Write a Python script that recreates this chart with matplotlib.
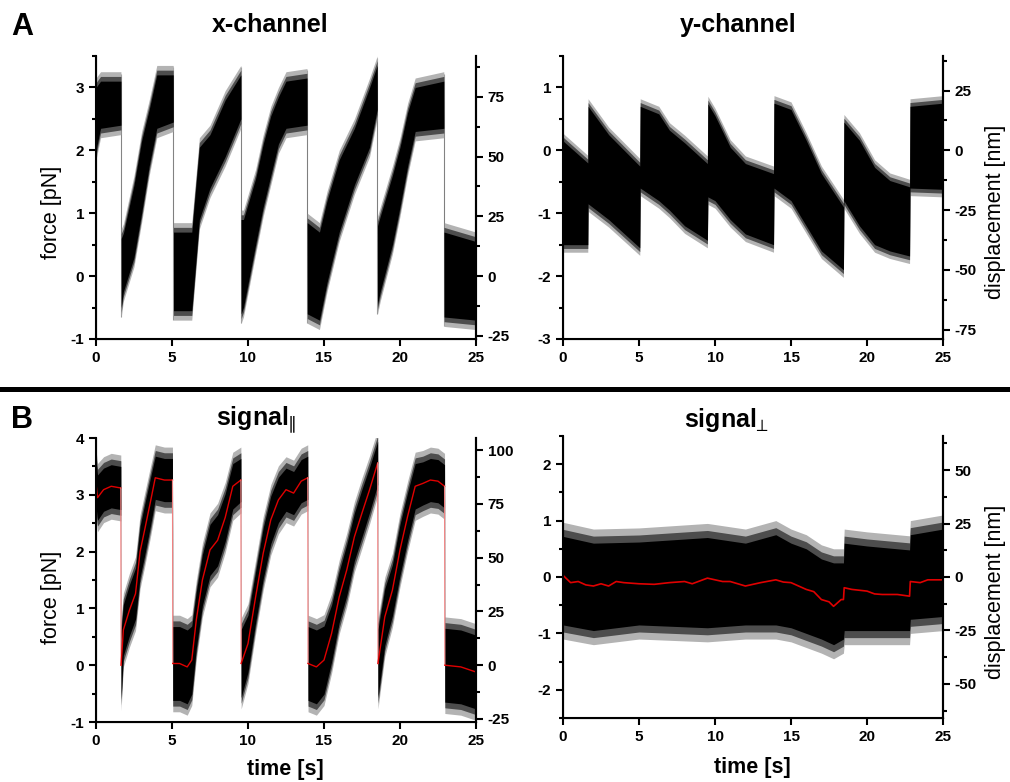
import numpy as np
import matplotlib
matplotlib.use("Agg")
import matplotlib.pyplot as plt
from matplotlib.ticker import MultipleLocator
from matplotlib.lines import Line2D

plt.rcParams['font.family'] = ['Liberation Sans', 'DejaVu Sans']
plt.rcParams['axes.unicode_minus'] = False

# ---- data ---------------------------------------------------------------
# x-channel: core of the noise band [pN]
xch_t = [0, 0.3, 1.64, 1.66, 1.8, 2.5, 3.0, 3.5, 4.0, 5.08, 5.1, 6.3, 6.8, 7.5, 8.5, 9.53, 9.55, 9.7, 10.5, 11.0,
         11.5, 12.0, 12.5, 13.88, 13.9, 14.7, 15.2, 16.0, 17.0, 18.0, 18.5, 18.52, 18.7, 19.5, 20.0, 20.5, 21.0,
         22.88, 22.9, 25.0]
xch_hi = [3.0, 3.1, 3.1, 0.6, 0.68, 1.45, 2.15, 2.65, 3.2, 3.2, 0.7, 0.7, 2.05, 2.25, 2.8, 3.2, 0.9, 0.9, 1.55, 2.1,
          2.55, 2.85, 3.1, 3.15, 0.85, 0.7, 1.2, 1.85, 2.35, 3.0, 3.35, 0.8, 0.95, 1.6, 2.05, 2.6, 3.0,
          3.1, 0.7, 0.55]
xch_lo = [2.0, 2.35, 2.4, -0.5, -0.25, 0.3, 1.0, 1.75, 2.35, 2.45, -0.55, -0.55, 0.9, 1.4, 1.9, 2.5, -0.6, -0.5, 0.5, 1.1,
          1.6, 2.1, 2.35, 2.4, -0.6, -0.7, -0.1, 0.7, 1.45, 2.05, 2.65, -0.45, -0.25, 0.5, 1.1, 1.75, 2.3,
          2.35, -0.65, -0.7]

# y-channel [pN]
ych_t = [0, 1.63, 1.65, 3.0, 5.05, 5.08, 6.3, 7.0, 8.0, 9.5, 9.53, 10.0, 11.0, 12.0, 13.85, 13.88, 15.0, 16.0, 17.0,
         18.45, 18.48, 19.5, 20.5, 21.5, 22.8, 22.83, 25.0]
ych_hi = [0.15, -0.2, 0.7, 0.25, -0.25, 0.7, 0.58, 0.32, 0.12, -0.21, 0.74, 0.55, 0.05, -0.21, -0.37, 0.75, 0.65, 0.16,
          -0.37, -0.9, 0.45, 0.16, -0.27, -0.48, -0.58, 0.7, 0.75]
ych_lo = [-1.5, -1.5, -0.85, -1.1, -1.55, -0.6, -0.8, -0.95, -1.2, -1.43, -0.74, -0.8, -1.1, -1.33, -1.5, -0.6, -0.8,
          -1.2, -1.6, -1.9, -0.8, -1.2, -1.5, -1.6, -1.68, -0.6, -0.62]

# signal parallel: running average (red) and half width of the noise band [pN]
par_t = [0, 0.1, 0.5, 1.0, 1.63, 1.65, 1.8, 2.2, 2.6, 2.9, 3.2, 3.6, 3.9, 4.5, 5.03, 5.05, 5.5, 6.0, 6.3, 6.6,
         7.0, 7.5, 8.0, 8.5, 9.0, 9.53, 9.55, 10.0, 10.5, 11.0, 11.5, 12.0, 12.5, 13.0, 13.5, 13.93, 13.95, 14.5,
         15.0, 15.5, 16.0, 16.5, 17.0, 17.5, 18.0, 18.53, 18.55, 19.0, 19.5, 20.0, 20.5, 21.0, 21.5, 22.0, 22.5,
         22.93, 22.95, 24.0, 25.0]
par_avg = [3.2, 2.95, 3.09, 3.15, 3.12, 0.0, 0.62, 0.97, 1.26, 2.0, 2.38, 2.9, 3.3, 3.26, 3.26, 0.03, 0.03, -0.03,
           0.09, 0.8, 1.5, 2.03, 2.2, 2.6, 3.15, 3.26, 0.03, 0.38, 1.2, 1.97, 2.56, 2.91, 3.09, 3.03, 3.24, 3.3,
           0.03, -0.03, 0.09, 0.56, 1.2, 1.68, 2.26, 2.68, 3.09, 3.56, 0.03, 0.85, 1.32, 2.03, 2.62, 3.15, 3.2,
           3.26, 3.24, 3.15, 0.0, -0.03, -0.12]
par_hw = [0.4, 0.4, 0.38, 0.38, 0.38, 0.6, 0.45, 0.45, 0.45, 0.45, 0.45, 0.42, 0.38, 0.38, 0.38, 0.65, 0.65, 0.65,
          0.6, 0.5, 0.45, 0.45, 0.45, 0.42, 0.4, 0.38, 0.6, 0.5, 0.45, 0.45, 0.42, 0.4, 0.38, 0.38, 0.38, 0.38,
          0.65, 0.65, 0.6, 0.5, 0.45, 0.45, 0.42, 0.42, 0.4, 0.38, 0.6, 0.5, 0.45, 0.45, 0.42, 0.4, 0.38, 0.38,
          0.38, 0.38, 0.65, 0.65, 0.65]

# signal perpendicular [pN]
perp_avg_t = [0, 0.5, 1.0, 1.5, 2, 2.5, 3, 3.5, 4, 5, 6, 7, 8, 8.5, 9.5, 10.5, 11, 12, 13, 14, 14.5, 15, 16, 16.5, 17,
              17.5, 17.8, 18.3, 18.45, 18.5, 19, 20, 20.5, 21, 22, 22.8, 22.85, 23.5, 24, 25]
perp_avg = [0.03, -0.1, -0.08, -0.14, -0.16, -0.12, -0.16, -0.08, -0.1, -0.12, -0.13, -0.1, -0.08, -0.12, -0.02,
            -0.08, -0.08, -0.16, -0.1, -0.05, -0.09, -0.1, -0.22, -0.26, -0.4, -0.44, -0.52, -0.4, -0.4, -0.19,
            -0.22, -0.25, -0.3, -0.31, -0.31, -0.34, -0.08, -0.1, -0.05, -0.05]
perp_t = [0, 2, 5, 9.5, 12, 14, 15, 16, 17, 17.8, 18.45, 18.5, 20, 22.8, 22.85, 25]
perp_hi = [0.72, 0.6, 0.62, 0.7, 0.6, 0.75, 0.6, 0.5, 0.32, 0.25, 0.25, 0.6, 0.55, 0.48, 0.75, 0.85]
perp_lo = [-0.85, -0.95, -0.85, -0.9, -0.85, -0.85, -0.9, -1.0, -1.1, -1.2, -1.1, -0.95, -0.95, -0.95, -0.75, -0.7]

# nm per pN
k_top = 26.3
k_bottom = 26.4

W, H = 1010, 782


def box(x0, x1, ytop, ybot):
    return [x0 / W, (H - ybot) / H, (x1 - x0) / W, (ybot - ytop) / H]


def band(ax, t, lo, hi, spike):
    # light fuzzy fringe, darker inner fringe, solid core
    t = np.asarray(t)
    lo = np.asarray(lo)
    hi = np.asarray(hi)
    ax.fill_between(t, lo - spike, hi + spike, color='0.7', lw=0, zorder=2)
    ax.fill_between(t, lo - spike / 2, hi + spike / 2, color='0.3', lw=0, zorder=2)
    ax.fill_between(t, lo, hi, color='k', lw=0, zorder=3)


def jumps(t):
    t = np.asarray(t)
    return np.where(np.diff(t) < 0.05)[0]


def style(ax, ylim, k, rmajor):
    ax.set_xlim(0, 25)
    ax.set_ylim(*ylim)
    ax.xaxis.set_major_locator(MultipleLocator(5))
    ax.yaxis.set_major_locator(MultipleLocator(1))
    ax.yaxis.set_minor_locator(MultipleLocator(0.5))
    ax.spines['top'].set_visible(False)
    for s in ['left', 'bottom', 'right']:
        ax.spines[s].set_linewidth(1.5)
    ax.tick_params(which='both', direction='out', width=1.5, labelsize=11, top=False, right=False)
    ax.tick_params(which='major', length=5)
    ax.tick_params(which='minor', length=3)
    for lab in ax.get_xticklabels() + ax.get_yticklabels():
        lab.set_fontweight('bold')
    ax2 = ax.twinx()
    ax2.set_ylim(ylim[0] * k, ylim[1] * k)
    ax2.yaxis.set_major_locator(MultipleLocator(rmajor))
    ax2.yaxis.set_minor_locator(MultipleLocator(rmajor / 2))
    ax2.spines['top'].set_visible(False)
    ax2.spines['right'].set_linewidth(1.5)
    ax2.tick_params(which='both', direction='out', width=1.5, labelsize=11)
    ax2.tick_params(which='major', length=5)
    ax2.tick_params(which='minor', length=3)
    for lab in ax2.get_yticklabels():
        lab.set_fontweight('bold')
    return ax2


fig = plt.figure(figsize=(W / 100, H / 100), dpi=100)

# A: x-channel, thin grey lines at the steps
ax1 = fig.add_axes(box(96, 476, 56, 339))
lo, hi = np.asarray(xch_lo), np.asarray(xch_hi)
for i in jumps(xch_t):
    ax1.vlines(xch_t[i], lo[i + 1] - 0.15, hi[i] + 0.12, color='0.6', lw=0.8, zorder=1)
band(ax1, xch_t, xch_lo, xch_hi, 0.15)
style(ax1, (-1, 3.5), k_top, 25)

# A: y-channel
ax2 = fig.add_axes(box(563, 943, 56, 339))
band(ax2, ych_t, ych_lo, ych_hi, 0.12)
style(ax2, (-3, 1.5), k_top, 25)

# B: signal parallel with running average
ax3 = fig.add_axes(box(96, 476, 438, 722))
pa = np.asarray(par_avg)
ph = np.asarray(par_hw)
band(ax3, par_t, pa - ph, pa + ph, 0.2)
pt = np.asarray(par_t)
start = 0
for i in jumps(par_t):
    ax3.plot(pt[start:i + 1], pa[start:i + 1], color='#e00000', lw=1.0, zorder=4)
    ax3.plot([pt[i], pt[i + 1]], [pa[i], pa[i + 1]], color='#f08080', lw=0.8, zorder=4)
    start = i + 1
ax3.plot(pt[start:], pa[start:], color='#e00000', lw=1.0, zorder=4)
style(ax3, (-1, 4), k_bottom, 25)

# B: signal perpendicular with running average
ax4 = fig.add_axes(box(563, 943, 436, 718))
band(ax4, perp_t, perp_lo, perp_hi, 0.25)
ax4.plot(perp_avg_t, perp_avg, color='#e00000', lw=1.2, zorder=4)
style(ax4, (-2.5, 2.5), k_bottom, 25)

# titles, labels, panel letters
fig.text(270 / W, 1 - 25 / H, 'x-channel', ha='center', va='center', fontsize=18, fontweight='bold')
fig.text(738 / W, 1 - 25 / H, 'y-channel', ha='center', va='center', fontsize=18, fontweight='bold')
fig.text(256 / W, 1 - 420 / H, r'signal$\!_{\parallel}$', ha='center', va='center', fontsize=18, fontweight='bold')
fig.text(727 / W, 1 - 420 / H, r'signal$\!_{\perp}$', ha='center', va='center', fontsize=18, fontweight='bold')
fig.text(22 / W, 1 - 27 / H, 'A', ha='center', va='center', fontsize=22, fontweight='bold')
fig.text(22 / W, 1 - 420 / H, 'B', ha='center', va='center', fontsize=22, fontweight='bold')

fig.text(52 / W, 1 - 212 / H, 'force [pN]', rotation=90, ha='center', va='center', fontsize=15.5)
fig.text(52 / W, 1 - 597 / H, 'force [pN]', rotation=90, ha='center', va='center', fontsize=15.5)
fig.text(995 / W, 1 - 212 / H, 'displacement [nm]', rotation=90, ha='center', va='center', fontsize=15.5)
fig.text(995 / W, 1 - 592 / H, 'displacement [nm]', rotation=90, ha='center', va='center', fontsize=15.5)
fig.text(285 / W, 1 - 770 / H, 'time [s]', ha='center', va='center', fontsize=15.5, fontweight='bold')
fig.text(752 / W, 1 - 768 / H, 'time [s]', ha='center', va='center', fontsize=15.5, fontweight='bold')

# separator between A and B
fig.add_artist(Line2D([0, 1], [1 - 389 / H, 1 - 389 / H], transform=fig.transFigure, color='k', lw=3.6))

fig.savefig('out.png', dpi=100)
